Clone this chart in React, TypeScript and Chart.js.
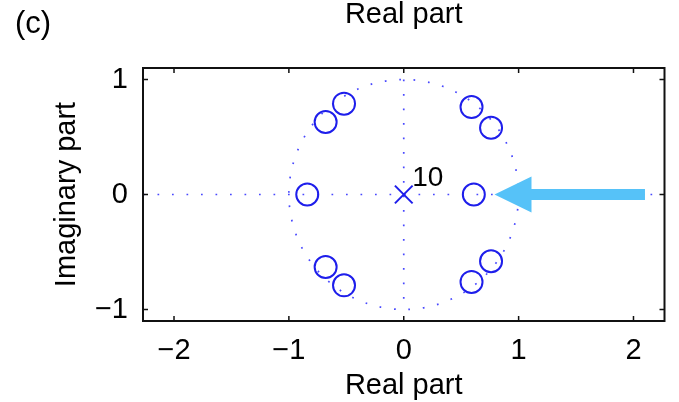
import React, { useEffect, useRef } from "react";
import { Chart, registerables } from "chart.js";

Chart.register(...registerables);

// ---- data ----
const zeroRe = [-0.52, -0.68, -0.84, -0.68, -0.52, 0.59, 0.76, 0.61, 0.76, 0.59];
const zeroIm = [0.79, 0.63, 0, -0.63, -0.79, 0.76, 0.58, 0, -0.58, -0.76];
const poleRe = [0];
const poleIm = [0];
const poleMultiplicity = [10];
const xTicks = [-2, -1, 0, 1, 2];
const yTicks = [-1, 0, 1];
const xRange = [-2.27, 2.27];
const yRange = [-1.1, 1.1];
const unitRadius = 1;
const arrowTail = [2.1, 0];
const arrowTip = [0.79, 0];
const panelLabel = "(c)";
const axisTitle = "Real part";
const yTitle = "Imaginary part";

const FONT = "'Liberation Sans', Arial, Helvetica, sans-serif";
const BLUE = "rgb(30,30,235)";
const DOT = "rgba(40,40,255,0.85)";
const fmt = (v: number) => (v < 0 ? "\u2212" + Math.abs(v) : String(v));

const zplanePlugin = {
  id: "zplane",
  beforeDatasetsDraw(chart: any) {
    const { ctx, chartArea: a, scales } = chart;
    const x = scales.x, y = scales.y;
    ctx.save();
    ctx.beginPath();
    ctx.rect(a.left, a.top, a.right - a.left, a.bottom - a.top);
    ctx.clip();
    ctx.strokeStyle = DOT;
    ctx.lineWidth = 1.7;
    ctx.setLineDash([1.7, 12.8]);
    const cx = x.getPixelForValue(0);
    const cy = y.getPixelForValue(0);
    const rx = x.getPixelForValue(unitRadius) - cx;
    const ry = cy - y.getPixelForValue(unitRadius);
    ctx.beginPath();
    ctx.ellipse(cx, cy, rx, ry, 0, 0, Math.PI * 2);
    ctx.stroke();
    ctx.beginPath();
    ctx.moveTo(a.left, cy);
    ctx.lineTo(a.right, cy);
    ctx.stroke();
    ctx.beginPath();
    ctx.moveTo(cx, y.getPixelForValue(unitRadius));
    ctx.lineTo(cx, y.getPixelForValue(-unitRadius));
    ctx.stroke();
    ctx.restore();
  },
  afterDatasetsDraw(chart: any) {
    const { ctx, scales } = chart;
    const x = scales.x, y = scales.y;
    ctx.save();
    // arrow
    const tx = x.getPixelForValue(arrowTail[0]);
    const ty = y.getPixelForValue(arrowTail[1]);
    const hx = x.getPixelForValue(arrowTip[0]);
    const hy = y.getPixelForValue(arrowTip[1]);
    const headLen = 37, headHalf = 18, shaftHalf = 5.5;
    ctx.fillStyle = "rgb(86,194,248)";
    ctx.beginPath();
    ctx.moveTo(hx, hy);
    ctx.lineTo(hx + headLen, hy - headHalf);
    ctx.lineTo(hx + headLen, hy - shaftHalf);
    ctx.lineTo(tx, ty - shaftHalf);
    ctx.lineTo(tx, ty + shaftHalf);
    ctx.lineTo(hx + headLen, hy + shaftHalf);
    ctx.lineTo(hx + headLen, hy + headHalf);
    ctx.closePath();
    ctx.fill();
    // pole multiplicity label
    ctx.fillStyle = "#000";
    ctx.font = `28px ${FONT}`;
    ctx.textAlign = "left";
    ctx.textBaseline = "alphabetic";
    poleRe.forEach((re, i) => {
      const px = x.getPixelForValue(re);
      const py = y.getPixelForValue(poleIm[i]);
      ctx.fillText(String(poleMultiplicity[i]), px + 8.5, py - 9);
    });
    ctx.restore();
  },
  afterDraw(chart: any) {
    const { ctx, chartArea: a, scales } = chart;
    const x = scales.x, y = scales.y;
    ctx.save();
    ctx.strokeStyle = "#111";
    ctx.lineWidth = 2;
    ctx.setLineDash([]);
    ctx.strokeRect(a.left, a.top, a.right - a.left, a.bottom - a.top);
    ctx.lineWidth = 1.5;
    const tl = 5;
    ctx.beginPath();
    x.ticks.forEach((t: any) => {
      const p = x.getPixelForValue(t.value);
      ctx.moveTo(p, a.bottom);
      ctx.lineTo(p, a.bottom - tl);
      ctx.moveTo(p, a.top);
      ctx.lineTo(p, a.top + tl);
    });
    y.ticks.forEach((t: any) => {
      const p = y.getPixelForValue(t.value);
      ctx.moveTo(a.left, p);
      ctx.lineTo(a.left + tl, p);
      ctx.moveTo(a.right, p);
      ctx.lineTo(a.right - tl, p);
    });
    ctx.stroke();
    ctx.fillStyle = "#000";
    ctx.font = `31px ${FONT}`;
    ctx.textAlign = "left";
    ctx.textBaseline = "alphabetic";
    ctx.fillText(panelLabel, 15, 33);
    ctx.restore();
  },
};

export default function App() {
  const ref = useRef<HTMLCanvasElement | null>(null);
  useEffect(() => {
    if (!ref.current) return;
    const tickFont = { family: FONT, size: 29, lineHeight: 1 };
    const chart = new Chart(ref.current, {
      type: "scatter",
      data: {
        datasets: [
          {
            label: "zeros",
            data: zeroRe.map((re, i) => ({ x: re, y: zeroIm[i] })),
            pointStyle: "circle",
            pointRadius: 11,
            pointBorderWidth: 2,
            borderColor: BLUE,
            backgroundColor: "rgba(0,0,0,0)",
            showLine: false,
          },
          {
            label: "poles",
            data: poleRe.map((re, i) => ({ x: re, y: poleIm[i] })),
            pointStyle: "crossRot",
            pointRadius: 12.5,
            pointBorderWidth: 2,
            borderColor: BLUE,
            backgroundColor: BLUE,
            showLine: false,
          },
        ],
      },
      options: {
        animation: false,
        responsive: false,
        devicePixelRatio: 1,
        layout: { padding: { left: 0, right: 14, top: 0, bottom: 0 } },
        plugins: { legend: { display: false }, tooltip: { enabled: false }, title: { display: false } },
        scales: {
          x: {
            type: "linear",
            position: "bottom",
            min: xRange[0],
            max: xRange[1],
            afterBuildTicks: (s: any) => {
              s.ticks = xTicks.map((v) => ({ value: v }));
            },
            afterFit: (s: any) => {
              s.height = 81;
            },
            ticks: { font: tickFont, color: "#000", padding: 15, callback: (v: any) => fmt(Number(v)) },
            grid: { display: false, drawTicks: false },
            border: { display: false },
            title: {
              display: true,
              text: axisTitle,
              color: "#000",
              font: tickFont,
              padding: { top: 0, bottom: 2 },
            },
          },
          x2: {
            type: "linear",
            position: "top",
            min: xRange[0],
            max: xRange[1],
            afterFit: (s: any) => {
              s.height = 68;
            },
            ticks: { display: false },
            grid: { display: false, drawTicks: false },
            border: { display: false },
            title: {
              display: true,
              text: axisTitle,
              color: "#000",
              font: tickFont,
              padding: { top: 0, bottom: 0 },
            },
          },
          y: {
            type: "linear",
            position: "left",
            min: yRange[0],
            max: yRange[1],
            afterBuildTicks: (s: any) => {
              s.ticks = yTicks.map((v) => ({ value: v }));
            },
            afterFit: (s: any) => {
              s.width = 143;
            },
            ticks: { font: tickFont, color: "#000", padding: 15, callback: (v: any) => fmt(Number(v)) },
            grid: { display: false, drawTicks: false },
            border: { display: false },
            title: {
              display: true,
              text: yTitle,
              color: "#000",
              font: tickFont,
              padding: { top: 52, bottom: 0 },
            },
          },
        },
      },
      plugins: [zplanePlugin],
    } as any);
    return () => chart.destroy();
  }, []);
  return (
    <div style={{ position: "fixed", left: 0, top: 0, width: 679, height: 402, background: "#fff" }}>
      <canvas ref={ref} width={679} height={402} style={{ display: "block" }} />
    </div>
  );
}
